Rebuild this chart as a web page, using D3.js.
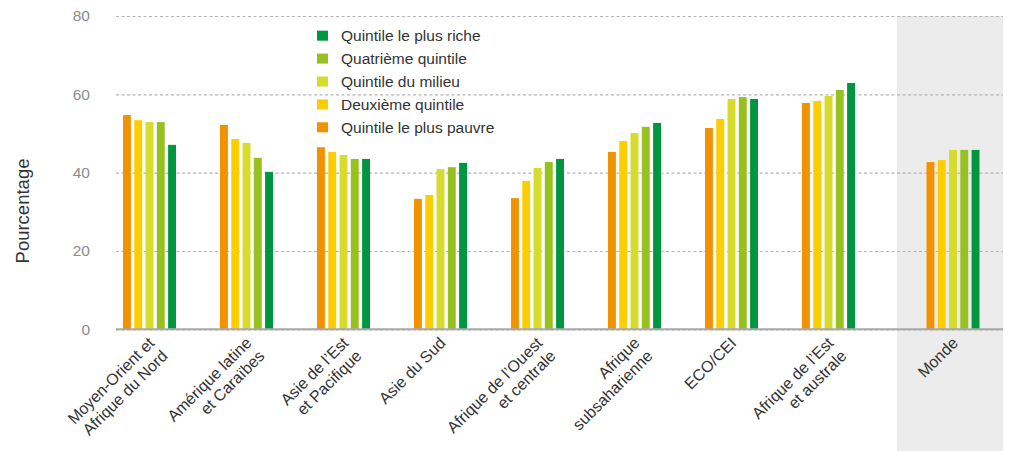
<!DOCTYPE html>
<html>
<head>
<meta charset="utf-8">
<script src="https://d3js.org/d3.v7.min.js"></script>
<style>
  body { margin: 0; background: #fff; }
  text { font-family: "Liberation Sans", Arial, sans-serif; }
</style>
</head>
<body>
<div id="chart"></div>
<script>

// categories ("|" = line break in the label)
var regions = ["Moyen-Orient et|Afrique du Nord", "Amérique latine|et Caraïbes", "Asie de l’Est|et Pacifique",
               "Asie du Sud", "Afrique de l’Ouest|et centrale", "Afrique|subsaharienne", "ECO/CEI",
               "Afrique de l’Est|et australe"];
var world = "Monde";

var quintiles = ["Quintile le plus pauvre", "Deuxième quintile", "Quintile du milieu", "Quatrième quintile", "Quintile le plus riche"];
var colors = ["#f39200", "#fdcd00", "#d7db2c", "#97c11f", "#009640"];

// values, same order as regions, then Monde
var plusPauvre = [54.7, 52.2, 46.5, 33.3, 33.5, 45.3, 51.4, 57.8, 42.7];
var deuxieme   = [53.4, 48.6, 45.3, 34.3, 37.9, 48.1, 53.7, 58.3, 43.2];
var milieu     = [52.9, 47.6, 44.5, 40.9, 41.2, 50.1, 58.8, 59.6, 45.8];
var quatrieme  = [52.9, 43.8, 43.5, 41.4, 42.7, 51.7, 59.3, 61.1, 45.8];
var plusRiche  = [47.1, 40.2, 43.5, 42.5, 43.5, 52.7, 58.8, 62.9, 45.8];

var yTicks = [0, 20, 40, 60, 80];

var series = [plusPauvre, deuxieme, milieu, quatrieme, plusRiche];
var categories = regions.concat([world]);

var width = 1011, height = 451;
var plotLeft = 116, plotRight = 1003;

var svg = d3.select("#chart")
  .append("svg")
    .attr("width", width)
    .attr("height", height);

// scales
var y = d3.scaleLinear().domain([0, 80]).range([329.3, 16]);

var x0 = d3.scaleBand().domain(regions).range([101, 877]);
var panel = d3.scaleBand().domain([world]).range([897, plotRight]);
var xw = d3.scaleBand().domain([world]).range([900, 1006]);   // bars of Monde sit a bit right of panel centre

var x1 = d3.scaleBand().domain(quintiles).range([0, 53]).paddingInner(0.3);

function groupStart(c) {
  if (c === world) return xw(c) + (xw.bandwidth() - 53) / 2;
  return x0(c) + (x0.bandwidth() - 53) / 2;
}

// grey panel behind Monde
svg.append("rect")
  .attr("x", panel(world))
  .attr("y", y(80))
  .attr("width", panel.bandwidth())
  .attr("height", height - y(80))
  .style("fill", "#ececec");

// y axis with grid
var yAxis = svg.append("g")
  .attr("transform", "translate(" + plotLeft + ",0)")
  .call(d3.axisLeft(y).tickValues(yTicks).tickSize(-(plotRight - plotLeft)).tickPadding(26));

yAxis.select(".domain").remove();
yAxis.selectAll(".tick line")
  .style("stroke", "#b4b4b4")
  .style("stroke-width", 1.2)
  .style("stroke-dasharray", "3,2.5");
yAxis.selectAll(".tick text")
  .style("font-size", "15.5px")
  .style("fill", "#8c8c8c")
  .style("font-family", "'Liberation Sans', Arial, sans-serif");

// bars
series.forEach(function(vals, i) {
  svg.append("g")
    .selectAll("rect")
    .data(vals)
    .enter()
    .append("rect")
      .attr("x", function(d, j) { return groupStart(categories[j]) + x1(quintiles[i]); })
      .attr("y", function(d) { return y(d); })
      .attr("width", x1.bandwidth())
      .attr("height", function(d) { return y(0) - y(d); })
      .style("fill", colors[i]);
});

// baseline
svg.append("line")
  .attr("x1", plotLeft).attr("x2", plotRight)
  .attr("y1", y(0)).attr("y2", y(0))
  .style("stroke", "#a8a8a8")
  .style("stroke-width", 2);

// x labels
svg.append("g")
  .selectAll("g")
  .data(categories)
  .enter()
  .append("g")
    .attr("transform", function(c) {
      var cx = groupStart(c) + 26.5 + 6;
      return "translate(" + cx + ",344) rotate(-45)";
    })
  .each(function(c) {
    var t = d3.select(this).append("text")
      .attr("text-anchor", "end")
      .style("font-size", "16px")
      .style("fill", "#333");
    c.split("|").forEach(function(line, k) {
      t.append("tspan").attr("x", 0).attr("dy", k === 0 ? 0 : "1.15em").text(line);
    });
  });

// y title
svg.append("text")
  .attr("transform", "translate(29," + 211 + ") rotate(-90)")
  .attr("text-anchor", "middle")
  .style("font-size", "18.5px")
  .style("fill", "#333")
  .text("Pourcentage");

// legend (richest on top)
var legendOrder = quintiles.slice().reverse();
var legend = svg.append("g")
  .selectAll("g")
  .data(legendOrder)
  .enter()
  .append("g")
    .attr("transform", function(d, i) { return "translate(317," + (35.7 + i * 22.9) + ")"; });

legend.append("rect")
  .attr("x", 0).attr("y", -5)
  .attr("width", 11).attr("height", 10)
  .style("fill", function(d) { return colors[quintiles.indexOf(d)]; });

legend.append("text")
  .attr("x", 24)
  .attr("dy", "0.35em")
  .style("font-size", "15.5px")
  .style("fill", "#333")
  .text(function(d) { return d; });

</script>
</body>
</html>
